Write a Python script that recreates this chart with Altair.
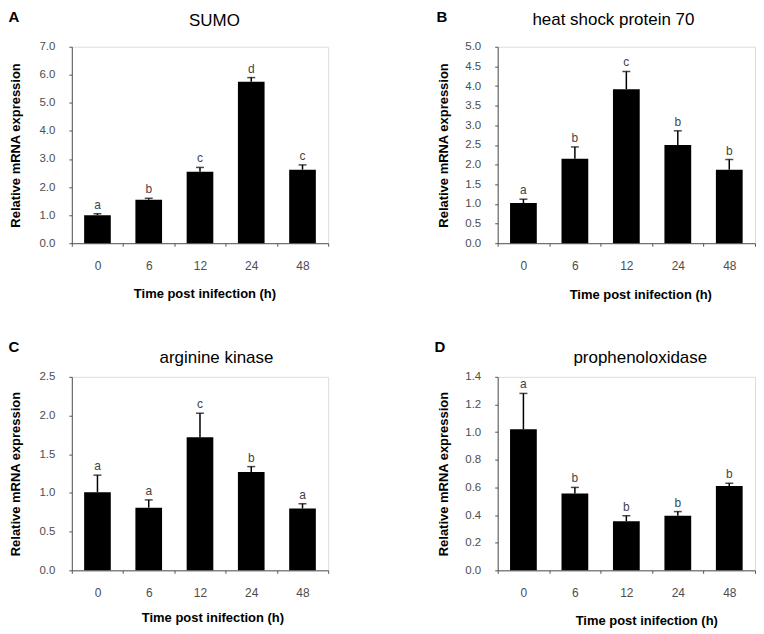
import altair as alt
import pandas as pd

times = ["0", "6", "12", "24", "48"]

titles = ["SUMO", "heat shock protein 70", "arginine kinase", "prophenoloxidase"]
panel_labels = ["A", "B", "C", "D"]

sumo_mean = [1.00, 1.55, 2.55, 5.75, 2.62]
sumo_err = [0.05, 0.05, 0.15, 0.15, 0.17]
sumo_letters = ["a", "b", "c", "d", "c"]

hsp_mean = [1.02, 2.15, 3.92, 2.50, 1.87]
hsp_err = [0.10, 0.30, 0.45, 0.36, 0.26]
hsp_letters = ["a", "b", "c", "b", "b"]

ak_mean = [1.01, 0.81, 1.72, 1.27, 0.80]
ak_err = [0.22, 0.10, 0.31, 0.07, 0.06]
ak_letters = ["a", "a", "c", "b", "a"]

ppo_mean = [1.02, 0.555, 0.355, 0.395, 0.61]
ppo_err = [0.26, 0.045, 0.04, 0.03, 0.02]
ppo_letters = ["a", "b", "b", "b", "b"]

y_max = [7.0, 5.0, 2.5, 1.4]
y_step = [1.0, 0.5, 0.5, 0.2]

FONT = "Liberation Sans"
GRAY = "#555555"


def panel(idx, means, errs, letters, w, h, ytitle_x, xtitle_x, xtitle_y,
          head_x, head_y, lab_x, lab_y):
    df = pd.DataFrame({"time": times, "mean": means, "err": errs, "letter": letters})
    df["top"] = df["mean"] + df["err"]
    n_ticks = int(round(y_max[idx] / y_step[idx]))
    tick_vals = [round(k * y_step[idx], 2) for k in range(n_ticks + 1)]

    xaxis = alt.Axis(title="Time post inifection (h)", labelAngle=0, tickBand="extent",
                     titleX=xtitle_x, titleY=xtitle_y, titleBaseline="middle",
                     labelFontSize=12)
    yaxis = alt.Axis(title="Relative mRNA expression", values=tick_vals, format=".1f",
                     titleX=ytitle_x, titleY=h / 2, titleBaseline="middle",
                     labelFontSize=11.5)

    def xe():
        return alt.X("time:N", sort=times, axis=xaxis,
                     scale=alt.Scale(paddingInner=0, paddingOuter=0))

    def ye(field):
        return alt.Y(field, axis=yaxis,
                     scale=alt.Scale(domain=[0, y_max[idx]], nice=False, zero=True))

    base = alt.Chart(df)
    bars = base.mark_bar(color="black", width=alt.RelativeBandSize(0.52)).encode(
        x=xe(), y=ye("mean:Q"))
    rule = base.mark_rule(color="black", strokeWidth=1.5).encode(
        x=xe(), y=ye("mean:Q"), y2="top:Q")
    cap = base.mark_tick(color="black", thickness=1.5, size=8).encode(
        x=xe(), y=ye("top:Q"))
    lab = base.mark_text(font=FONT, fontSize=12, color="#444444", baseline="alphabetic",
                         dy=-5).encode(x=xe(), y=ye("top:Q"), text="letter:N")

    hdf = pd.DataFrame({"title": [titles[idx]], "plab": [panel_labels[idx]]})
    head = alt.Chart(hdf).mark_text(font=FONT, fontSize=17, color="black",
                                    baseline="middle", align="center").encode(
        x=alt.value(head_x), y=alt.value(head_y), text="title:N")
    plab = alt.Chart(hdf).mark_text(font=FONT, fontSize=15, fontWeight="bold",
                                    color="black", baseline="middle",
                                    align="center").encode(
        x=alt.value(lab_x), y=alt.value(lab_y), text="plab:N")

    return alt.layer(bars, rule, cap, lab, head, plab).properties(width=w, height=h)


pA = panel(0, sumo_mean, sumo_err, sumo_letters, 257, 197, -56, 133, 50, 143, -26, -58, -30)
pB = panel(1, hsp_mean, hsp_err, hsp_letters, 258, 197, -54, 143, 51, 116, -27, -56, -30)
pC = panel(2, ak_mean, ak_err, ak_letters, 257, 194, -56, 141, 47, 145, -19, -58, -30)
pD = panel(3, ppo_mean, ppo_err, ppo_letters, 258, 194, -54, 149, 50, 143, -19, -58, -30)

chart = alt.concat(pA, pB, pC, pD, columns=2, bounds="flush",
                   spacing=alt.RowColnumber(row=134, column=170)).properties(
    padding={"left": 0, "top": 0, "right": 0, "bottom": 0}
).configure_view(stroke=None).configure(background="white").configure_axis(
    grid=False, domainColor=GRAY, tickColor=GRAY, labelColor="#4d4d4d",
    labelFont=FONT, labelFontSize=12, titleFont=FONT, titleFontSize=13,
    titleFontWeight="bold", titleColor="black", tickSize=3, labelPadding=14,
    domainWidth=1, tickWidth=1
)

chart.save("out.html", embed_options={"renderer": "svg", "actions": False})
